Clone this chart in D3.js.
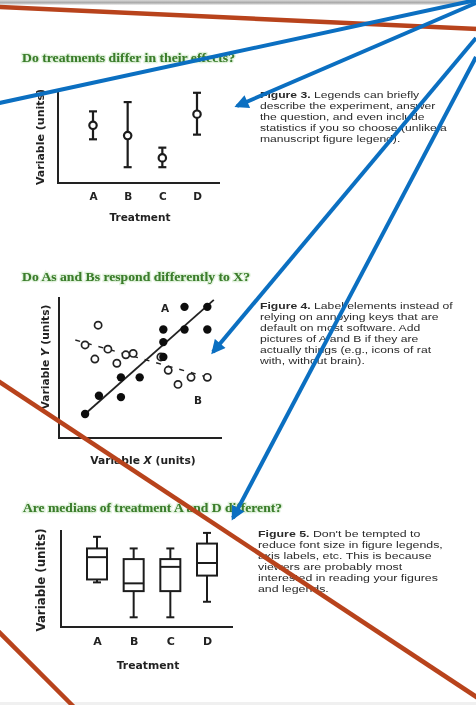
<!DOCTYPE html>
<html>
<head>
<meta charset="utf-8">
<script src="https://cdn.jsdelivr.net/npm/d3@7"></script>
<style>
  body { margin: 0; background: #fff; }
  svg { display: block; }
  .title { font-family: "Liberation Serif", serif; font-weight: bold; font-size: 12px; fill: #3b7d2c; }
  .lab { font-family: "DejaVu Sans", sans-serif; font-weight: bold; fill: #222; }
  .legend { font-family: "Liberation Sans", sans-serif; font-size: 8.8px; fill: #2a2a2a; }
</style>
</head>
<body>
<div id="chart"></div>
<script>
const W = 476, H = 705;

const TREATMENTS = ["A", "B", "C", "D"];

// figure 3: means with error bars
const MEANS = [6.2, 5.1, 2.7, 7.4];
const ERR_LO = [4.7, 1.7, 1.7, 5.2];
const ERR_HI = [7.7, 8.7, 3.8, 9.7];

// figure 4: scatter of A (filled) and B (open)
const A_X = [1.6, 2.45, 3.8, 3.8, 4.95, 6.4, 6.4, 6.4, 7.7, 9.1, 7.7, 9.1];
const A_Y = [1.7, 3.0, 4.3, 2.9, 4.3, 5.75, 6.8, 7.7, 9.3, 9.3, 7.7, 7.7];
const B_X = [2.4, 1.6, 2.2, 3.0, 3.55, 4.1, 4.55, 6.25, 6.7, 7.3, 8.1, 9.1];
const B_Y = [8.0, 6.6, 5.6, 6.3, 5.3, 5.9, 6.0, 5.75, 4.8, 3.8, 4.3, 4.3];
const A_FIT = [[1.6, 1.7], [9.5, 9.8]];
const B_FIT = [[1.0, 6.95], [9.45, 4.2]];

// figure 5: box plot statistics
const WHISK_LO = [4.6, 1.0, 1.0, 2.6];
const Q1 = [4.9, 3.7, 3.7, 5.3];
const MEDIAN = [7.2, 4.5, 6.2, 6.6];
const Q3 = [8.1, 7.0, 7.0, 8.6];
const WHISK_HI = [9.3, 8.1, 8.1, 9.7];

const TITLES = [
  "Do treatments differ in their effects?",
  "Do As and Bs respond differently to X?",
  "Are medians of treatment A and D different?"
];
const TITLE_WIDTHS = [213, 228, 259];
const LEGEND3 = ["Legends can briefly", "describe the experiment, answer", "the question, and even include",
  "statistics if you so choose (unlike a", "manuscript figure legend)."];
const LEGEND4 = ["Label elements instead of", "relying on annoying keys that are", "default on most software. Add",
  "pictures of A and B if they are", "actually things (e.g., icons of rat", "with, without brain)."];
const LEGEND5 = ["Don't be tempted to", "reduce font size in figure legends,", "axis labels, etc. This is because",
  "viewers are probably most", "interested in reading your figures", "and legends."];

// annotation overlay drawn on top of the page
const BLUE_ARROWS = [
  { x1: 476, y1: 0, x2: -5, y2: 104, head: false },
  { x1: 476, y1: 3, x2: 237, y2: 106, head: true },
  { x1: 476, y1: 38, x2: 213, y2: 352, head: true },
  { x1: 476, y1: 57, x2: 233, y2: 518, head: true }
];
const RED_LINES = [
  { x1: -2, y1: 7, x2: 478, y2: 29 },
  { x1: -2, y1: 381, x2: 478, y2: 698 },
  { x1: -2, y1: 631, x2: 74, y2: 707 }
];

const svg = d3.select("#chart").append("svg").attr("width", W).attr("height", H);
svg.append("rect").attr("width", W).attr("height", H).attr("fill", "#fff");

const defs = svg.append("defs");
const grad = defs.append("linearGradient").attr("id", "topbar").attr("x1", 0).attr("x2", 0).attr("y1", 0).attr("y2", 1);
grad.append("stop").attr("offset", "0%").attr("stop-color", "#d8d8d8");
grad.append("stop").attr("offset", "55%").attr("stop-color", "#a8a8a8");
grad.append("stop").attr("offset", "100%").attr("stop-color", "#f2f2f2");
defs.append("filter").attr("id", "soft").append("feGaussianBlur").attr("stdDeviation", 0.35);
defs.append("marker")
  .attr("id", "bluehead").attr("markerUnits", "userSpaceOnUse")
  .attr("viewBox", "0 0 10 10").attr("refX", 8).attr("refY", 5)
  .attr("markerWidth", 15).attr("markerHeight", 14).attr("orient", "auto")
  .append("path").attr("d", "M0,0 L10,5 L0,10 Z").attr("fill", "#0b6fc1");

svg.append("rect").attr("width", W).attr("height", 5).attr("fill", "url(#topbar)");
svg.append("rect").attr("y", H - 3).attr("width", W).attr("height", 3).attr("fill", "#f0f0f0");

const page = svg.append("g").attr("filter", "url(#soft)");

function drawTitle(i, x, y) {
  page.append("text").attr("class", "title").attr("x", x).attr("y", y)
    .attr("textLength", TITLE_WIDTHS[i]).attr("lengthAdjust", "spacingAndGlyphs")
    .attr("stroke", "#d6ecd0").attr("stroke-width", 2.5).attr("stroke-opacity", 0.7)
    .text(TITLES[i]);
  page.append("text").attr("class", "title").attr("x", x).attr("y", y)
    .attr("textLength", TITLE_WIDTHS[i]).attr("lengthAdjust", "spacingAndGlyphs")
    .text(TITLES[i]);
}

// the source page is stretched sideways, so each legend block is widened
// until one chosen line reaches its width in the picture
function drawLegend(fig, lines, x, y0, refLine, refWidth) {
  const g = page.append("g");
  const t = g.append("text").attr("class", "legend");
  const rows = [];
  lines.forEach((line, i) => {
    const ts = t.append("tspan").attr("x", 0).attr("y", y0 + i * 11);
    if (i === 0) {
      ts.append("tspan").attr("font-weight", "bold").text(fig + " ");
    }
    ts.append("tspan").text(line);
    rows.push(ts);
  });
  const measured = rows[refLine].node().getComputedTextLength();
  g.attr("transform", `translate(${x},0) scale(${refWidth / measured},1)`);
}

function drawFrame(L) {
  page.append("path")
    .attr("d", `M${L.left},${L.top} V${L.bottom} H${L.right}`)
    .attr("fill", "none").attr("stroke", "#222").attr("stroke-width", 2);
}

function yLabel(parts, cx, cy, size) {
  const t = page.append("text").attr("class", "lab").attr("font-size", size)
    .attr("text-anchor", "middle")
    .attr("transform", `translate(${cx},${cy}) rotate(-90)`).attr("dy", "0.35em");
  parts.forEach(p => t.append("tspan").attr("font-style", p.italic ? "italic" : null).text(p.t));
}

function catAxis(x, y, size) {
  const g = page.append("g").attr("transform", `translate(0,${y})`)
    .call(d3.axisBottom(x).tickSize(0).tickPadding(0));
  g.select(".domain").remove();
  g.selectAll("text").attr("class", "lab").attr("font-size", size).attr("fill", "#222")
    .attr("font-family", "'DejaVu Sans', sans-serif");
}

// ---------- Figure 3 ----------
{
  const L = { left: 58, right: 220, top: 90, bottom: 183 };
  drawTitle(0, 22, 62);
  const x = d3.scalePoint().domain(TREATMENTS).range([93, 197]);
  const y = d3.scaleLinear().domain([0, 10]).range([L.bottom, L.top]);
  drawFrame(L);
  const data = TREATMENTS.map((t, i) => ({ t, m: MEANS[i], lo: ERR_LO[i], hi: ERR_HI[i] }));
  const g = page.append("g").attr("stroke", "#1e1e1e").attr("stroke-width", 2.2).attr("fill", "none");
  g.selectAll(".bar").data(data).enter().append("line")
    .attr("x1", d => x(d.t)).attr("x2", d => x(d.t))
    .attr("y1", d => y(d.lo)).attr("y2", d => y(d.hi));
  g.selectAll(".capHi").data(data).enter().append("line")
    .attr("x1", d => x(d.t) - 4).attr("x2", d => x(d.t) + 4)
    .attr("y1", d => y(d.hi)).attr("y2", d => y(d.hi));
  g.selectAll(".capLo").data(data).enter().append("line")
    .attr("x1", d => x(d.t) - 4).attr("x2", d => x(d.t) + 4)
    .attr("y1", d => y(d.lo)).attr("y2", d => y(d.lo));
  g.selectAll("circle").data(data).enter().append("circle")
    .attr("cx", d => x(d.t)).attr("cy", d => y(d.m)).attr("r", 3.7).attr("fill", "#fff");
  catAxis(x, 193, 10.5);
  yLabel([{ t: "Variable (units)" }], 40, 137, 11);
  page.append("text").attr("class", "lab").attr("font-size", 10.5).attr("text-anchor", "middle")
    .attr("x", 140).attr("y", 221).text("Treatment");
  drawLegend("Figure 3.", LEGEND3, 260, 98, 3, 187);
}

// ---------- Figure 4 ----------
{
  const L = { left: 59, right: 222, top: 297, bottom: 438 };
  drawTitle(1, 22, 281);
  const x = d3.scaleLinear().domain([0, 10]).range([L.left, L.right]);
  const y = d3.scaleLinear().domain([0, 10]).range([L.bottom, L.top]);
  drawFrame(L);
  const line = d3.line().x(d => x(d[0])).y(d => y(d[1]));
  page.append("path").attr("d", line(B_FIT)).attr("fill", "none")
    .attr("stroke", "#222").attr("stroke-width", 1.5).attr("stroke-dasharray", "5,7");
  page.append("path").attr("d", line(A_FIT)).attr("fill", "none")
    .attr("stroke", "#222").attr("stroke-width", 1.8);
  page.selectAll(".ptB").data(B_X.map((v, i) => [v, B_Y[i]])).enter().append("circle")
    .attr("cx", d => x(d[0])).attr("cy", d => y(d[1])).attr("r", 3.6)
    .attr("fill", "#fff").attr("stroke", "#222").attr("stroke-width", 1.7);
  page.selectAll(".ptA").data(A_X.map((v, i) => [v, A_Y[i]])).enter().append("circle")
    .attr("cx", d => x(d[0])).attr("cy", d => y(d[1])).attr("r", 4.2).attr("fill", "#111");
  page.append("text").attr("class", "lab").attr("font-size", 10.5).attr("text-anchor", "middle")
    .attr("x", 165).attr("y", 312).text("A");
  page.append("text").attr("class", "lab").attr("font-size", 10.5).attr("text-anchor", "middle")
    .attr("x", 198).attr("y", 404).text("B");
  yLabel([{ t: "Variable " }, { t: "Y", italic: true }, { t: " (units)" }], 45, 357, 10.7);
  const xl = page.append("text").attr("class", "lab").attr("font-size", 10.7).attr("text-anchor", "middle")
    .attr("x", 143).attr("y", 464);
  xl.append("tspan").text("Variable ");
  xl.append("tspan").attr("font-style", "italic").text("X");
  xl.append("tspan").text(" (units)");
  drawLegend("Figure 4.", LEGEND4, 260, 309, 0, 193);
}

// ---------- Figure 5 ----------
{
  const L = { left: 61, right: 233, top: 530, bottom: 627 };
  drawTitle(2, 23, 512);
  const x = d3.scalePoint().domain(TREATMENTS).range([97, 207]);
  const y = d3.scaleLinear().domain([0, 10]).range([L.bottom, L.top]);
  drawFrame(L);
  const bw = 20;
  const data = TREATMENTS.map((t, i) => ({ t, lo: WHISK_LO[i], q1: Q1[i], med: MEDIAN[i], q3: Q3[i], hi: WHISK_HI[i] }));
  const g = page.append("g").attr("stroke", "#1e1e1e").attr("stroke-width", 2).attr("fill", "none");
  g.selectAll(".wl").data(data).enter().append("line")
    .attr("x1", d => x(d.t)).attr("x2", d => x(d.t)).attr("y1", d => y(d.lo)).attr("y2", d => y(d.q1));
  g.selectAll(".wh").data(data).enter().append("line")
    .attr("x1", d => x(d.t)).attr("x2", d => x(d.t)).attr("y1", d => y(d.q3)).attr("y2", d => y(d.hi));
  g.selectAll(".cl").data(data).enter().append("line")
    .attr("x1", d => x(d.t) - 4).attr("x2", d => x(d.t) + 4).attr("y1", d => y(d.lo)).attr("y2", d => y(d.lo));
  g.selectAll(".ch").data(data).enter().append("line")
    .attr("x1", d => x(d.t) - 4).attr("x2", d => x(d.t) + 4).attr("y1", d => y(d.hi)).attr("y2", d => y(d.hi));
  g.selectAll(".box").data(data).enter().append("rect")
    .attr("x", d => x(d.t) - bw / 2).attr("width", bw)
    .attr("y", d => y(d.q3)).attr("height", d => y(d.q1) - y(d.q3)).attr("fill", "#fff");
  g.selectAll(".med").data(data).enter().append("line")
    .attr("x1", d => x(d.t) - bw / 2).attr("x2", d => x(d.t) + bw / 2)
    .attr("y1", d => y(d.med)).attr("y2", d => y(d.med));
  catAxis(x, 637, 11);
  yLabel([{ t: "Variable (units)" }], 41, 580, 11.8);
  page.append("text").attr("class", "lab").attr("font-size", 10.8).attr("text-anchor", "middle")
    .attr("x", 148).attr("y", 669).text("Treatment");
  drawLegend("Figure 5.", LEGEND5, 258, 537, 1, 185);
}

// ---------- annotation overlay ----------
svg.selectAll(".red").data(RED_LINES).enter().append("line")
  .attr("x1", d => d.x1).attr("y1", d => d.y1).attr("x2", d => d.x2).attr("y2", d => d.y2)
  .attr("stroke", "#b8431c").attr("stroke-width", 4.5);
svg.selectAll(".blue").data(BLUE_ARROWS).enter().append("line")
  .attr("x1", d => d.x1).attr("y1", d => d.y1).attr("x2", d => d.x2).attr("y2", d => d.y2)
  .attr("stroke", "#0b6fc1").attr("stroke-width", 4)
  .attr("marker-end", d => d.head ? "url(#bluehead)" : null);
</script>
</body>
</html>
